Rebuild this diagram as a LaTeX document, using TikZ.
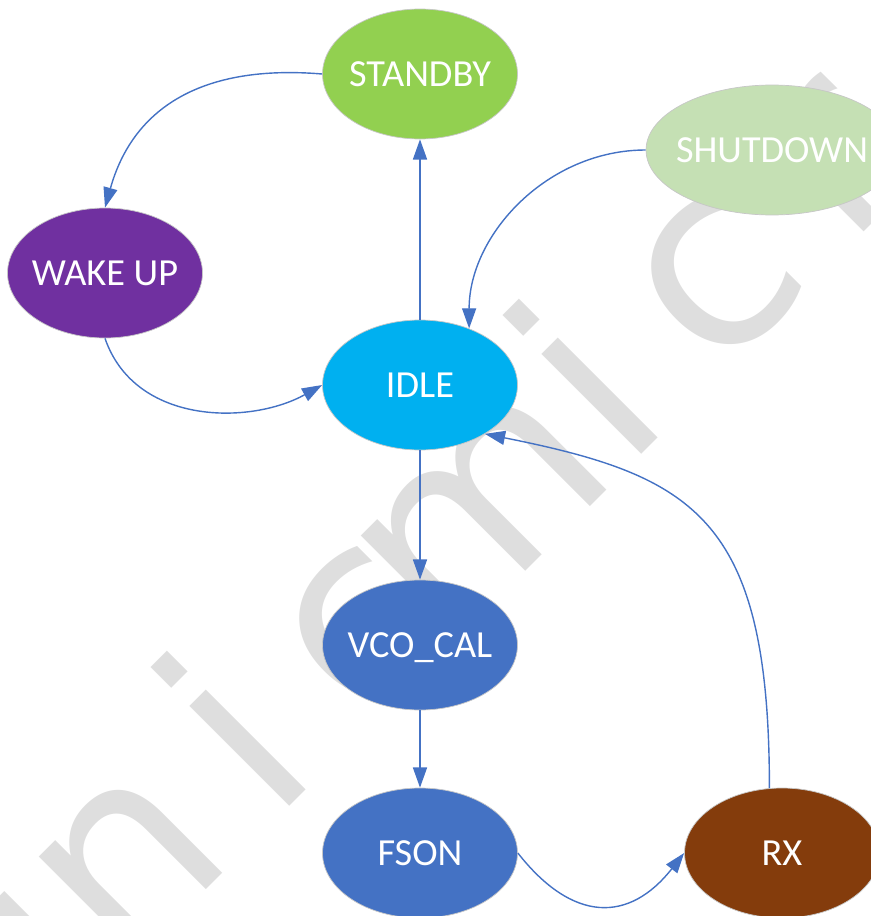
\documentclass[tikz,border=0pt]{standalone}
\usepackage{fontspec}
\setmainfont{Carlito}
\newfontfamily\wmfont{DejaVu Sans}
\usetikzlibrary{arrows.meta,shapes.geometric}
\definecolor{linkblue}{HTML}{4472C4}
\definecolor{wmgray}{RGB}{222,222,222}
\definecolor{cstandby}{HTML}{92D050}
\definecolor{cshutdown}{HTML}{C5E0B4}
\definecolor{cwake}{HTML}{7030A0}
\definecolor{cidle}{HTML}{00B0F0}
\definecolor{cblue}{HTML}{4472C4}
\definecolor{crx}{HTML}{843C0C}
\newcommand{\lbl}[1]{\makebox[0pt][c]{#1}}
\begin{document}
\begin{tikzpicture}[x=0.02cm,y=-0.02cm,
  state/.style={ellipse, draw=black!22, line width=0.4pt,
    minimum width=3.9cm, minimum height=2.6cm, inner sep=0pt,
    text=white, text height=14pt, text depth=0pt,
    font=\fontsize{21.8pt}{26pt}\selectfont},
  link/.style={draw=linkblue, line width=0.8pt, -{Triangle[length=11.5pt,width=8pt]}},
  wm/.style={text=wmgray, font=\wmfont\fontsize{147pt}{150pt}\selectfont,
    rotate=45, anchor=base, inner sep=0pt}]
\useasboundingbox (0,0) rectangle (871,916);
\begin{scope}
\clip (0,0) rectangle (871,916);
\node[wm] (w1) at (63,1033) {u};
\node[wm] (w2) at (180,916) {n};
\node[wm] (w3) at (298,798) {i};
\node[wm] (w4) at (415,681) {c};
\node[wm] (w5) at (533,564) {m};
\node[wm] (w6) at (650,446) {i};
\node[wm] (w7) at (767,329) {c};
\node[wm] (w8) at (885,211) {r};
\node[wm] (w9) at (1002,94) {o};

\node[state, fill=cstandby] (standby) at (420,74) {\lbl{STANDBY}};
\node[state, fill=cshutdown, minimum width=5.04cm] (shutdown) at (772,150) {\lbl{SHUTDOWN}};
\node[state, fill=cwake] (wakeup) at (105,273) {\lbl{WAKE UP}};
\node[state, fill=cidle] (idle) at (420,385) {\lbl{IDLE}};
\node[state, fill=cblue] (vco) at (420,645) {\lbl{VCO\_CAL}};
\node[state, fill=cblue] (fson) at (420,853) {\lbl{FSON}};
\node[state, fill=crx] (rx) at (782,853) {\lbl{RX}};

\draw[link] (idle.north) -- (standby.south);
\draw[link] (standby.west) .. controls +(-120,-10) and +(28,-100) .. (wakeup.north);
\draw[link] (wakeup.south) .. controls +(30,87) and +(-72,40) .. (idle.west);
\draw[link] (shutdown.west) .. controls +(-98,0) and +(0,-94) .. (idle.49);
\draw[link] (idle.south) -- (vco.north);
\draw[link] (vco.south) -- (fson.north);
\draw[link] (fson.east) .. controls +(55,70) and +(-55,70) .. (rx.west);
\draw[link] (rx.101) .. controls +(0,-270) and +(210,42) .. (idle.-37);
\end{scope}
\end{tikzpicture}
\end{document}
